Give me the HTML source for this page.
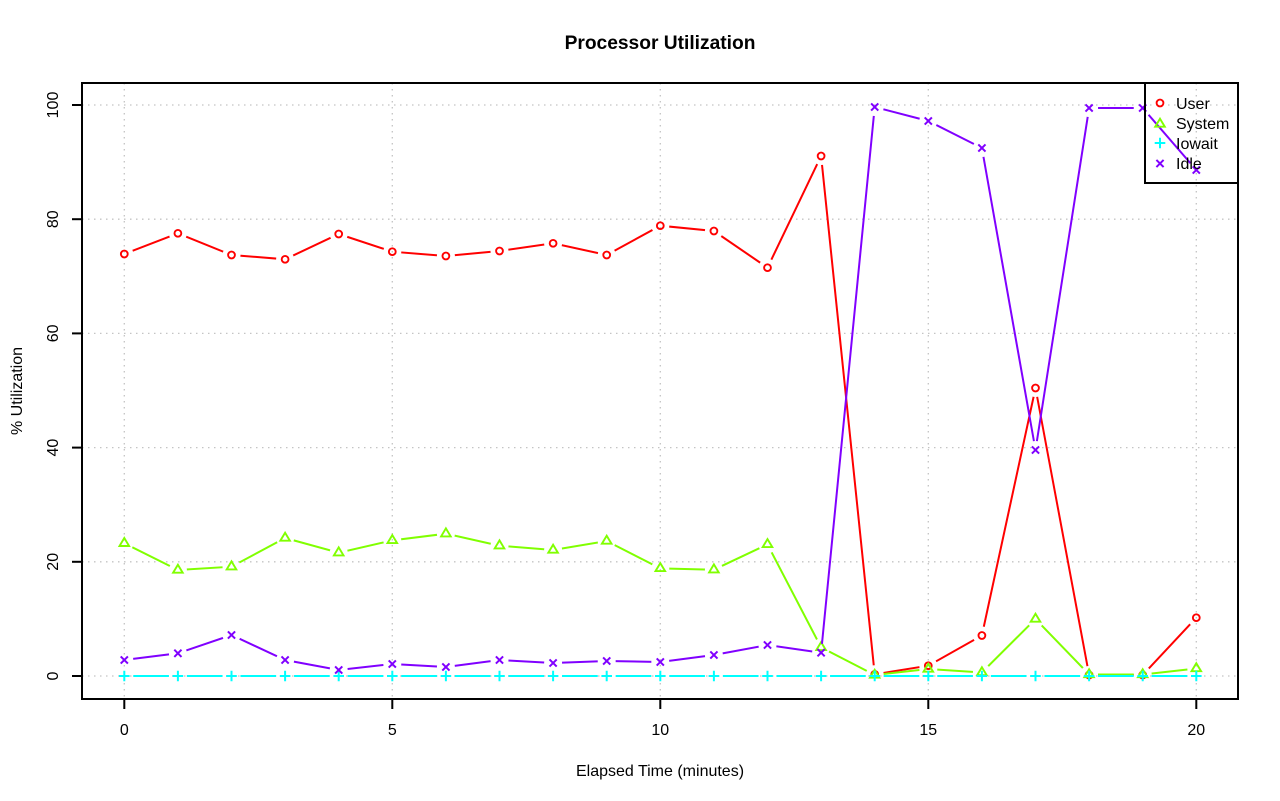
<!DOCTYPE html>
<html><head><meta charset="utf-8"><style>
html,body{margin:0;padding:0;background:#fff;}
svg{display:block;}
text{font-family:"Liberation Sans",Arial,sans-serif;fill:#000;}
</style></head><body>
<svg width="1280" height="801" viewBox="0 0 1280 801" xmlns="http://www.w3.org/2000/svg">
<defs>
<g id="circ"><circle cx="0" cy="0" r="3.4" fill="none" stroke="#FF0000" stroke-width="1.9"/></g>
<g id="tri"><path d="M0 -5.3 L4.8 2.7 L-4.8 2.7 Z" fill="none" stroke="#80FF00" stroke-width="1.9" stroke-linejoin="miter"/></g>
<g id="plus"><path d="M-5.3 0 H5.3 M0 -5.3 V5.3" stroke="#00FFFF" stroke-width="2"/></g>
<g id="crs"><path d="M-3.6 -3.6 L3.6 3.6 M-3.6 3.6 L3.6 -3.6" stroke="#8000FF" stroke-width="2"/></g>
<mask id="mU" maskUnits="userSpaceOnUse" x="0" y="0" width="1280" height="801">
<rect x="0" y="0" width="1280" height="801" fill="#fff"/>
<g fill="#000">
<circle cx="124.3" cy="254" r="9"/><circle cx="177.9" cy="233.3" r="9"/><circle cx="231.5" cy="255" r="9"/><circle cx="285.1" cy="259.3" r="9"/><circle cx="338.7" cy="234" r="9"/><circle cx="392.3" cy="251.7" r="9"/><circle cx="445.9" cy="256" r="9"/><circle cx="499.5" cy="251" r="9"/><circle cx="553.1" cy="243.3" r="9"/><circle cx="606.7" cy="255" r="9"/><circle cx="660.3" cy="225.7" r="9"/><circle cx="713.9" cy="231" r="9"/><circle cx="767.5" cy="267.7" r="9"/><circle cx="821.1" cy="156" r="9"/><circle cx="874.7" cy="674.3" r="9"/><circle cx="928.3" cy="665.7" r="9"/><circle cx="981.9" cy="635.5" r="9"/><circle cx="1035.5" cy="388" r="9"/><circle cx="1089.1" cy="675" r="9"/><circle cx="1142.7" cy="675" r="9"/><circle cx="1196.3" cy="617.7" r="9"/>
</g></mask>
<mask id="mS" maskUnits="userSpaceOnUse" x="0" y="0" width="1280" height="801">
<rect x="0" y="0" width="1280" height="801" fill="#fff"/>
<g fill="#000">
<circle cx="124.3" cy="543.3" r="9"/><circle cx="177.9" cy="570" r="9"/><circle cx="231.5" cy="566.7" r="9"/><circle cx="285.1" cy="538" r="9"/><circle cx="338.7" cy="552.7" r="9"/><circle cx="392.3" cy="540.4" r="9"/><circle cx="445.9" cy="533.7" r="9"/><circle cx="499.5" cy="545.7" r="9"/><circle cx="553.1" cy="550" r="9"/><circle cx="606.7" cy="541" r="9"/><circle cx="660.3" cy="568.4" r="9"/><circle cx="713.9" cy="569.7" r="9"/><circle cx="767.5" cy="544.4" r="9"/><circle cx="821.1" cy="647.4" r="9"/><circle cx="874.7" cy="675" r="9"/><circle cx="928.3" cy="669" r="9"/><circle cx="981.9" cy="672.5" r="9"/><circle cx="1035.5" cy="619" r="9"/><circle cx="1089.1" cy="674.5" r="9"/><circle cx="1142.7" cy="674.5" r="9"/><circle cx="1196.3" cy="668.5" r="9"/>
</g></mask>
<mask id="mI" maskUnits="userSpaceOnUse" x="0" y="0" width="1280" height="801">
<rect x="0" y="0" width="1280" height="801" fill="#fff"/>
<g fill="#000">
<circle cx="124.3" cy="676" r="9"/><circle cx="177.9" cy="676" r="9"/><circle cx="231.5" cy="676" r="9"/><circle cx="285.1" cy="676" r="9"/><circle cx="338.7" cy="676" r="9"/><circle cx="392.3" cy="676" r="9"/><circle cx="445.9" cy="676" r="9"/><circle cx="499.5" cy="676" r="9"/><circle cx="553.1" cy="676" r="9"/><circle cx="606.7" cy="676" r="9"/><circle cx="660.3" cy="676" r="9"/><circle cx="713.9" cy="676" r="9"/><circle cx="767.5" cy="676" r="9"/><circle cx="821.1" cy="676" r="9"/><circle cx="874.7" cy="676" r="9"/><circle cx="928.3" cy="676" r="9"/><circle cx="981.9" cy="676" r="9"/><circle cx="1035.5" cy="676" r="9"/><circle cx="1089.1" cy="676" r="9"/><circle cx="1142.7" cy="676" r="9"/><circle cx="1196.3" cy="676" r="9"/>
</g></mask>
<mask id="mD" maskUnits="userSpaceOnUse" x="0" y="0" width="1280" height="801">
<rect x="0" y="0" width="1280" height="801" fill="#fff"/>
<g fill="#000">
<circle cx="124.3" cy="660" r="9"/><circle cx="177.9" cy="653.3" r="9"/><circle cx="231.5" cy="635" r="9"/><circle cx="285.1" cy="660" r="9"/><circle cx="338.7" cy="670" r="9"/><circle cx="392.3" cy="664" r="9"/><circle cx="445.9" cy="667" r="9"/><circle cx="499.5" cy="660" r="9"/><circle cx="553.1" cy="663" r="9"/><circle cx="606.7" cy="661" r="9"/><circle cx="660.3" cy="662" r="9"/><circle cx="713.9" cy="655" r="9"/><circle cx="767.5" cy="645" r="9"/><circle cx="821.1" cy="652.7" r="9"/><circle cx="874.7" cy="107" r="9"/><circle cx="928.3" cy="121" r="9"/><circle cx="981.9" cy="148" r="9"/><circle cx="1035.5" cy="450" r="9"/><circle cx="1089.1" cy="108" r="9"/><circle cx="1142.7" cy="108" r="9"/><circle cx="1196.3" cy="170" r="9"/>
</g></mask>
</defs>

<!-- grid -->
<g stroke="#c4c4c4" stroke-width="1.3" stroke-dasharray="1.5 4.5" fill="none">
<line x1="124.3" y1="83" x2="124.3" y2="699"/>
<line x1="392.3" y1="83" x2="392.3" y2="699"/>
<line x1="660.3" y1="83" x2="660.3" y2="699"/>
<line x1="928.3" y1="83" x2="928.3" y2="699"/>
<line x1="1196.3" y1="83" x2="1196.3" y2="699"/>
<line x1="82" y1="676" x2="1238" y2="676"/>
<line x1="82" y1="561.8" x2="1238" y2="561.8"/>
<line x1="82" y1="447.6" x2="1238" y2="447.6"/>
<line x1="82" y1="333.4" x2="1238" y2="333.4"/>
<line x1="82" y1="219.2" x2="1238" y2="219.2"/>
<line x1="82" y1="105" x2="1238" y2="105"/>
</g>

<!-- User -->
<polyline mask="url(#mU)" fill="none" stroke="#FF0000" stroke-width="2" points="124.3,254 177.9,233.3 231.5,255 285.1,259.3 338.7,234 392.3,251.7 445.9,256 499.5,251 553.1,243.3 606.7,255 660.3,225.7 713.9,231 767.5,267.7 821.1,156 874.7,674.3 928.3,665.7 981.9,635.5 1035.5,388 1089.1,675 1142.7,675 1196.3,617.7"/>
<use href="#circ" x="124.3" y="254"/><use href="#circ" x="177.9" y="233.3"/><use href="#circ" x="231.5" y="255"/><use href="#circ" x="285.1" y="259.3"/><use href="#circ" x="338.7" y="234"/><use href="#circ" x="392.3" y="251.7"/><use href="#circ" x="445.9" y="256"/><use href="#circ" x="499.5" y="251"/><use href="#circ" x="553.1" y="243.3"/><use href="#circ" x="606.7" y="255"/><use href="#circ" x="660.3" y="225.7"/><use href="#circ" x="713.9" y="231"/><use href="#circ" x="767.5" y="267.7"/><use href="#circ" x="821.1" y="156"/><use href="#circ" x="874.7" y="674.3"/><use href="#circ" x="928.3" y="665.7"/><use href="#circ" x="981.9" y="635.5"/><use href="#circ" x="1035.5" y="388"/><use href="#circ" x="1089.1" y="675"/><use href="#circ" x="1142.7" y="675"/><use href="#circ" x="1196.3" y="617.7"/>

<!-- System -->
<polyline mask="url(#mS)" fill="none" stroke="#80FF00" stroke-width="2" points="124.3,543.3 177.9,570 231.5,566.7 285.1,538 338.7,552.7 392.3,540.4 445.9,533.7 499.5,545.7 553.1,550 606.7,541 660.3,568.4 713.9,569.7 767.5,544.4 821.1,647.4 874.7,675 928.3,669 981.9,672.5 1035.5,619 1089.1,674.5 1142.7,674.5 1196.3,668.5"/>
<use href="#tri" x="124.3" y="543.3"/><use href="#tri" x="177.9" y="570"/><use href="#tri" x="231.5" y="566.7"/><use href="#tri" x="285.1" y="538"/><use href="#tri" x="338.7" y="552.7"/><use href="#tri" x="392.3" y="540.4"/><use href="#tri" x="445.9" y="533.7"/><use href="#tri" x="499.5" y="545.7"/><use href="#tri" x="553.1" y="550"/><use href="#tri" x="606.7" y="541"/><use href="#tri" x="660.3" y="568.4"/><use href="#tri" x="713.9" y="569.7"/><use href="#tri" x="767.5" y="544.4"/><use href="#tri" x="821.1" y="647.4"/><use href="#tri" x="874.7" y="675"/><use href="#tri" x="928.3" y="669"/><use href="#tri" x="981.9" y="672.5"/><use href="#tri" x="1035.5" y="619"/><use href="#tri" x="1089.1" y="674.5"/><use href="#tri" x="1142.7" y="674.5"/><use href="#tri" x="1196.3" y="668.5"/>

<!-- Iowait -->
<polyline mask="url(#mI)" fill="none" stroke="#00FFFF" stroke-width="2" points="124.3,676 1196.3,676"/>
<use href="#plus" x="124.3" y="676"/><use href="#plus" x="177.9" y="676"/><use href="#plus" x="231.5" y="676"/><use href="#plus" x="285.1" y="676"/><use href="#plus" x="338.7" y="676"/><use href="#plus" x="392.3" y="676"/><use href="#plus" x="445.9" y="676"/><use href="#plus" x="499.5" y="676"/><use href="#plus" x="553.1" y="676"/><use href="#plus" x="606.7" y="676"/><use href="#plus" x="660.3" y="676"/><use href="#plus" x="713.9" y="676"/><use href="#plus" x="767.5" y="676"/><use href="#plus" x="821.1" y="676"/><use href="#plus" x="874.7" y="676"/><use href="#plus" x="928.3" y="676"/><use href="#plus" x="981.9" y="676"/><use href="#plus" x="1035.5" y="676"/><use href="#plus" x="1089.1" y="676"/><use href="#plus" x="1142.7" y="676"/><use href="#plus" x="1196.3" y="676"/>

<!-- Idle -->
<polyline mask="url(#mD)" fill="none" stroke="#8000FF" stroke-width="2" points="124.3,660 177.9,653.3 231.5,635 285.1,660 338.7,670 392.3,664 445.9,667 499.5,660 553.1,663 606.7,661 660.3,662 713.9,655 767.5,645 821.1,652.7 874.7,107 928.3,121 981.9,148 1035.5,450 1089.1,108 1142.7,108 1196.3,170"/>
<use href="#crs" x="124.3" y="660"/><use href="#crs" x="177.9" y="653.3"/><use href="#crs" x="231.5" y="635"/><use href="#crs" x="285.1" y="660"/><use href="#crs" x="338.7" y="670"/><use href="#crs" x="392.3" y="664"/><use href="#crs" x="445.9" y="667"/><use href="#crs" x="499.5" y="660"/><use href="#crs" x="553.1" y="663"/><use href="#crs" x="606.7" y="661"/><use href="#crs" x="660.3" y="662"/><use href="#crs" x="713.9" y="655"/><use href="#crs" x="767.5" y="645"/><use href="#crs" x="821.1" y="652.7"/><use href="#crs" x="874.7" y="107"/><use href="#crs" x="928.3" y="121"/><use href="#crs" x="981.9" y="148"/><use href="#crs" x="1035.5" y="450"/><use href="#crs" x="1089.1" y="108"/><use href="#crs" x="1142.7" y="108"/><use href="#crs" x="1196.3" y="170"/>

<!-- box and axes -->
<rect x="82" y="83" width="1156" height="616" fill="none" stroke="#000" stroke-width="2"/>
<g stroke="#000" stroke-width="2">
<line x1="124.3" y1="699" x2="124.3" y2="709"/>
<line x1="392.3" y1="699" x2="392.3" y2="709"/>
<line x1="660.3" y1="699" x2="660.3" y2="709"/>
<line x1="928.3" y1="699" x2="928.3" y2="709"/>
<line x1="1196.3" y1="699" x2="1196.3" y2="709"/>
<line x1="72" y1="676" x2="82" y2="676"/>
<line x1="72" y1="561.8" x2="82" y2="561.8"/>
<line x1="72" y1="447.6" x2="82" y2="447.6"/>
<line x1="72" y1="333.4" x2="82" y2="333.4"/>
<line x1="72" y1="219.2" x2="82" y2="219.2"/>
<line x1="72" y1="105" x2="82" y2="105"/>
</g>
<g font-size="16" text-anchor="middle">
<text x="124.3" y="735">0</text>
<text x="392.3" y="735">5</text>
<text x="660.3" y="735">10</text>
<text x="928.3" y="735">15</text>
<text x="1196.3" y="735">20</text>
<text transform="translate(58,676) rotate(-90)">0</text>
<text transform="translate(58,561.8) rotate(-90)">20</text>
<text transform="translate(58,447.6) rotate(-90)">40</text>
<text transform="translate(58,333.4) rotate(-90)">60</text>
<text transform="translate(58,219.2) rotate(-90)">80</text>
<text transform="translate(58,105) rotate(-90)">100</text>
<text x="660" y="776">Elapsed Time (minutes)</text>
<text transform="translate(22,391) rotate(-90)">% Utilization</text>
</g>
<text x="660" y="49" font-size="19.2" font-weight="bold" text-anchor="middle">Processor Utilization</text>

<!-- legend -->
<rect x="1145" y="83" width="93" height="100" fill="none" stroke="#000" stroke-width="2"/>
<use href="#circ" x="1160" y="103"/>
<use href="#tri" x="1160" y="124"/>
<use href="#plus" x="1160" y="143"/>
<use href="#crs" x="1160" y="163.5"/>
<g font-size="16">
<text x="1176" y="108.8">User</text>
<text x="1176" y="128.8">System</text>
<text x="1176" y="148.8">Iowait</text>
<text x="1176" y="169">Idle</text>
</g>
</svg>
</body></html>
